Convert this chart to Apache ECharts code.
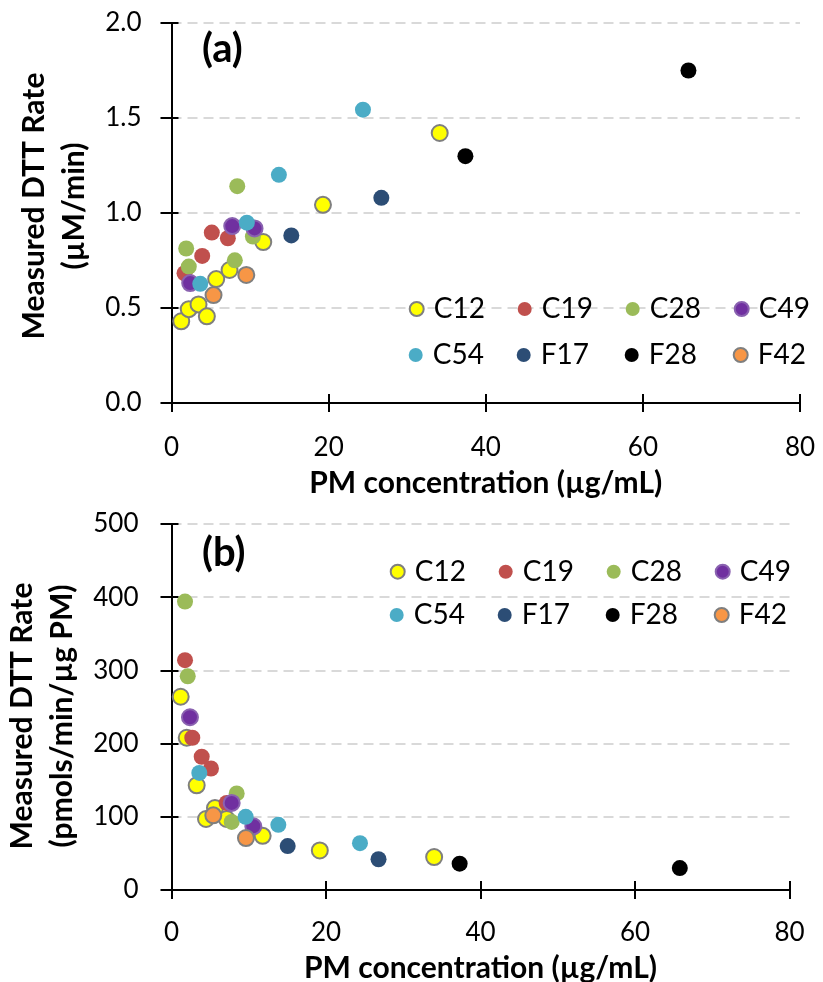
<!DOCTYPE html>
<html><head><meta charset="utf-8">
<script src="https://cdn.jsdelivr.net/npm/echarts@6/dist/echarts.min.js"></script>
<style>html,body{margin:0;padding:0;background:#fff}#c{width:823px;height:982px}</style>
</head><body><div id="c"></div>
<script>
// ---- categories / legend ----
const seriesNames = ['C12','C19','C28','C49','C54','F17','F28','F42'];
const legendRow1 = ['C12','C19','C28','C49'];
const legendRow2 = ['C54','F17','F28','F42'];

// ---- axis ticks ----
const xTicks = [0, 20, 40, 60, 80];
const yTicksA = [0.0, 0.5, 1.0, 1.5, 2.0];
const yTicksB = [0, 100, 200, 300, 400, 500];

// ---- panel (a): [PM concentration, DTT rate µM/min] ----
const a_C12 = [[1.24,0.430],[2.2,0.494],[3.44,0.519],[4.5,0.456],[5.69,0.652],[7.39,0.700],[11.68,0.847],[19.28,1.043],[34.14,1.421]];
const a_C19 = [[1.66,0.683],[3.91,0.774],[5.13,0.897],[7.17,0.867]];
const a_C28 = [[1.87,0.813],[2.2,0.718],[8.06,0.751],[8.37,1.141],[10.36,0.876]];
const a_C49 = [[2.38,0.631],[7.73,0.931],[10.57,0.919]];
const a_C54 = [[3.66,0.627],[9.59,0.949],[13.67,1.201],[24.37,1.544]];
const a_F17 = [[15.25,0.882],[26.71,1.080]];
const a_F28 = [[37.41,1.299],[65.8,1.750]];
const a_F42 = [[5.35,0.568],[9.52,0.674]];

// ---- panel (b): [PM concentration, DTT rate pmols/min/µg PM] ----
const b_C12 = [[1.19,264],[1.97,208],[3.26,143],[4.47,97],[5.63,112],[7.14,97],[11.8,74],[19.2,54],[34.0,45]];
const b_C19 = [[1.75,314],[2.69,208],[3.91,182],[5.11,166],[7.14,119]];
const b_C28 = [[1.75,394],[2.1,292],[7.79,93],[8.44,132]];
const b_C49 = [[2.39,236],[7.79,119],[10.59,87]];
const b_C54 = [[3.6,160],[9.6,100],[13.83,89],[24.4,64]];
const b_F17 = [[15.04,60],[26.8,42]];
const b_F28 = [[37.3,36],[65.8,30]];
const b_F42 = [[5.41,102],[9.64,71]];

const dataA = {C12:a_C12,C19:a_C19,C28:a_C28,C49:a_C49,C54:a_C54,F17:a_F17,F28:a_F28,F42:a_F42};
const dataB = {C12:b_C12,C19:b_C19,C28:b_C28,C49:b_C49,C54:b_C54,F17:b_F17,F28:b_F28,F42:b_F42};

const styles = {
  C12:{color:'#FFFF00',borderColor:'#7F7F7F',borderWidth:2,opacity:1},
  C19:{color:'#C0504D',opacity:1},
  C28:{color:'#9BBB59',opacity:1},
  C49:{color:'#7030A0',borderColor:'#8A62B0',borderWidth:2,opacity:1},
  C54:{color:'#4BACC6',opacity:1},
  F17:{color:'#2C4D75',opacity:1},
  F28:{color:'#000000',opacity:1},
  F42:{color:'#F79646',borderColor:'#7F7F7F',borderWidth:2,opacity:1}
};

const FONT = 'Lato';
const series = [];
seriesNames.forEach(n => {
  series.push({name:n,type:'scatter',xAxisIndex:0,yAxisIndex:0,data:dataA[n],symbolSize:16,itemStyle:styles[n],emphasis:{disabled:true}});
});
seriesNames.forEach(n => {
  series.push({name:n,type:'scatter',xAxisIndex:2,yAxisIndex:2,data:dataB[n],symbolSize:16,itemStyle:styles[n],emphasis:{disabled:true}});
});

function xAxisMain(grid, margin, gap){
  return {type:'value',gridIndex:grid,min:xTicks[0],max:xTicks[xTicks.length-1],interval:20,position:'bottom',
    name:'PM concentration (µg/mL)',nameLocation:'middle',nameGap:gap,
    nameTextStyle:{fontFamily:FONT,fontSize:30,fontWeight:'bold',color:'#000'},
    axisLine:{show:true,onZero:false,lineStyle:{color:'#000',width:2}},
    axisTick:{show:true,inside:false,length:9,lineStyle:{color:'#000',width:2}},
    axisLabel:{margin:margin,fontFamily:FONT,fontSize:26,color:'#000'},
    splitLine:{show:false}};
}
function xAxisInner(grid){
  return {type:'value',gridIndex:grid,min:xTicks[0],max:xTicks[xTicks.length-1],interval:20,position:'bottom',
    axisLine:{show:false,onZero:false},axisTick:{show:true,inside:true,length:9,lineStyle:{color:'#000',width:2}},
    axisLabel:{show:false},splitLine:{show:false}};
}
function yAxisMain(grid, ticks, interval, nameText, gap, pad, margin, fmt){
  return {type:'value',gridIndex:grid,min:ticks[0],max:ticks[ticks.length-1],interval:interval,position:'left',
    name:nameText,nameLocation:'middle',nameRotate:90,nameGap:gap,
    nameTextStyle:{fontFamily:FONT,fontSize:30,fontWeight:'bold',color:'#000',lineHeight:40,padding:pad},
    axisLine:{show:true,onZero:false,lineStyle:{color:'#000',width:2}},
    axisTick:{show:true,inside:false,length:11,lineStyle:{color:'#000',width:2}},
    axisLabel:{margin:margin,fontFamily:FONT,fontSize:26,color:'#000',formatter:fmt},
    splitLine:{show:true,lineStyle:{color:'#D9D9D9',width:2,type:[10,6]}}};
}
function yAxisInner(grid, ticks, interval){
  return {type:'value',gridIndex:grid,min:ticks[0],max:ticks[ticks.length-1],interval:interval,position:'left',
    axisLine:{show:false,onZero:false},axisTick:{show:true,inside:true,length:7,lineStyle:{color:'#000',width:2}},
    axisLabel:{show:false},splitLine:{show:false}};
}

function legend(names, left, top){
  return {data:names,left:left,top:top,orient:'horizontal',icon:'circle',itemWidth:14,itemHeight:14,itemGap:22,padding:0,
    selectedMode:false,textStyle:{fontFamily:FONT,fontSize:28,color:'#000',width:62,lineHeight:30,padding:[0,0,0,5]}};
}

const option = {
  animation:false,
  backgroundColor:'#fff',
  grid:[
    {left:171.5,right:23,top:23,bottom:579,outerBoundsMode:'none',containLabel:false},
    {left:171.5,right:33.5,top:524,bottom:92,outerBoundsMode:'none',containLabel:false}
  ],
  xAxis:[xAxisMain(0,32,65), xAxisInner(0), xAxisMain(1,30,63), xAxisInner(1)],
  yAxis:[
    yAxisMain(0,yTicksA,0.5,'Measured DTT Rate\n(µM/min)',69,[0,0,0,14],30,v=>v.toFixed(1)),
    yAxisInner(0,yTicksA,0.5),
    yAxisMain(1,yTicksB,100,'Measured DTT Rate\n(pmols/min/µg PM)',83,[0,18,0,0],33,v=>String(v)),
    yAxisInner(1,yTicksB,100)
  ],
  legend:[
    legend(legendRow1,408.7,294),
    legend(legendRow2,408.7,340),
    legend(legendRow1,389.7,556.7),
    legend(legendRow2,389.7,600)
  ],
  graphic:[
    {type:'text',left:202,top:29,style:{text:'(a)',fontFamily:FONT,fontSize:40,fontWeight:'bold',fill:'#000'}},
    {type:'text',left:202,top:533,style:{text:'(b)',fontFamily:FONT,fontSize:40,fontWeight:'bold',fill:'#000'}}
  ],
  series:series
};
const chart = echarts.init(document.getElementById('c'), null, {renderer:'canvas'});
chart.setOption(option);
</script></body></html>
